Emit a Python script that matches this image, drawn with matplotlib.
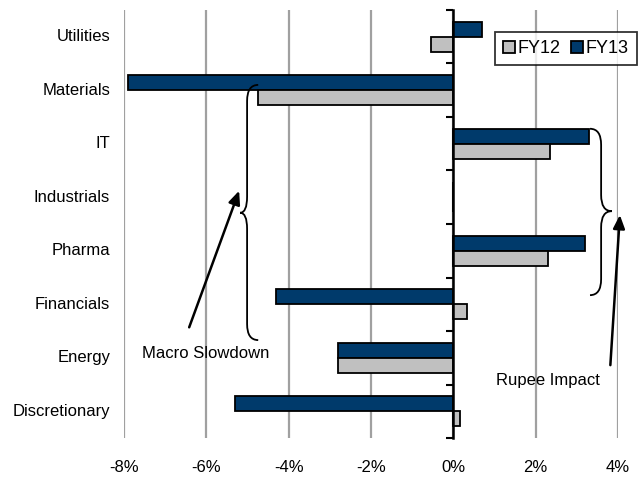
import numpy as np
import matplotlib
matplotlib.use("Agg")
import matplotlib.pyplot as plt
from matplotlib.path import Path
from matplotlib.patches import PathPatch

plt.rcParams['font.family'] = ['Liberation Sans Narrow', 'Liberation Sans', 'DejaVu Sans']

sectors = ["Utilities", "Materials", "IT", "Industrials", "Pharma",
           "Financials", "Energy", "Discretionary"]
fy12 = [-0.55, -4.75, 2.35, 0.0, 2.3, 0.33, -2.8, 0.15]
fy13 = [0.7, -7.9, 3.3, 0.0, 3.2, -4.3, -2.8, -5.3]
xticks = [-8, -6, -4, -2, 0, 2, 4]

navy = "#003A6B"
grey = "#C0C0C0"

fig = plt.figure(figsize=(6.42, 4.8), dpi=100)
ax = fig.add_axes([124/642, 1-438/480, 494/642, 428/480])

y = np.arange(len(sectors))
h = 0.28
ax.barh(y - h/2, fy13, height=h, color=navy, edgecolor="black", linewidth=1.3, label="FY13", zorder=3)
ax.barh(y + h/2, fy12, height=h, color=grey, edgecolor="black", linewidth=1.3, label="FY12", zorder=3)

ax.set_xlim(-8, 4)
ax.set_ylim(len(sectors) - 0.5, -0.5)

ax.set_xticks(xticks)
ax.set_xticklabels(["%d%%" % v for v in xticks], fontsize=12)
ax.tick_params(axis="x", length=0, pad=16)
ax.grid(axis="x", color="#A0A0A0", linewidth=1.6, zorder=0)
ax.set_axisbelow(True)

# category axis sits at 0%, labels on the far left
ax.set_yticks(np.arange(len(sectors) + 1) - 0.5)
ax.set_yticklabels([])
ax.tick_params(axis="y", length=5, width=1.5, direction="out", color="black")
for s in ["top", "right", "bottom"]:
    ax.spines[s].set_visible(False)
ax.spines["left"].set_position(("data", 0))
ax.spines["left"].set_linewidth(1.8)
ax.spines["left"].set_zorder(4)
for i, name in enumerate(sectors):
    ax.text(-0.028, i, name, transform=ax.get_yaxis_transform(),
            ha="right", va="center", fontsize=12)

# legend
hnd, lab = ax.get_legend_handles_labels()
leg = ax.legend(hnd[::-1], lab[::-1], ncol=2, loc="upper left",
                bbox_to_anchor=(0.751, 0.949), borderaxespad=0, fontsize=13,
                frameon=True, fancybox=False, edgecolor="black",
                handlelength=0.65, handleheight=0.65, handletextpad=0.15,
                columnspacing=0.6, borderpad=0.45)
leg.get_frame().set_linewidth(1.3)
leg.set_zorder(5)


def brace(x_end, x_line, x_tip, y0, y1, ym, r=0.3):
    verts = [(x_end, y0), (x_line, y0), (x_line, y0 + r),
             (x_line, ym - r), (x_line, ym), (x_tip, ym),
             (x_line, ym), (x_line, ym + r),
             (x_line, y1 - r), (x_line, y1), (x_end, y1)]
    codes = [Path.MOVETO, Path.CURVE3, Path.CURVE3,
             Path.LINETO, Path.CURVE3, Path.CURVE3,
             Path.CURVE3, Path.CURVE3,
             Path.LINETO, Path.CURVE3, Path.CURVE3]
    ax.add_patch(PathPatch(Path(verts, codes), fill=False, lw=1.3,
                           edgecolor="black", zorder=6, clip_on=False))


brace(-4.74, -5.01, -5.18, 0.90, 5.67, 3.29)
brace(3.32, 3.59, 3.85, 1.72, 4.83, 3.26)

arrow = dict(arrowstyle="-|>,head_length=0.8,head_width=0.35", color="black", lw=1.8)
ax.annotate("", xy=(-5.18, 2.83), xytext=(-6.44, 5.48), arrowprops=arrow,
            annotation_clip=False, zorder=6)
ax.annotate("", xy=(4.05, 3.28), xytext=(3.81, 6.19), arrowprops=arrow,
            annotation_clip=False, zorder=6)
ax.text(-6.02, 5.92, "Macro Slowdown", ha="center", va="center", fontsize=12)
ax.text(2.30, 6.43, "Rupee Impact", ha="center", va="center", fontsize=12)

fig.savefig("out.png", dpi=100)
